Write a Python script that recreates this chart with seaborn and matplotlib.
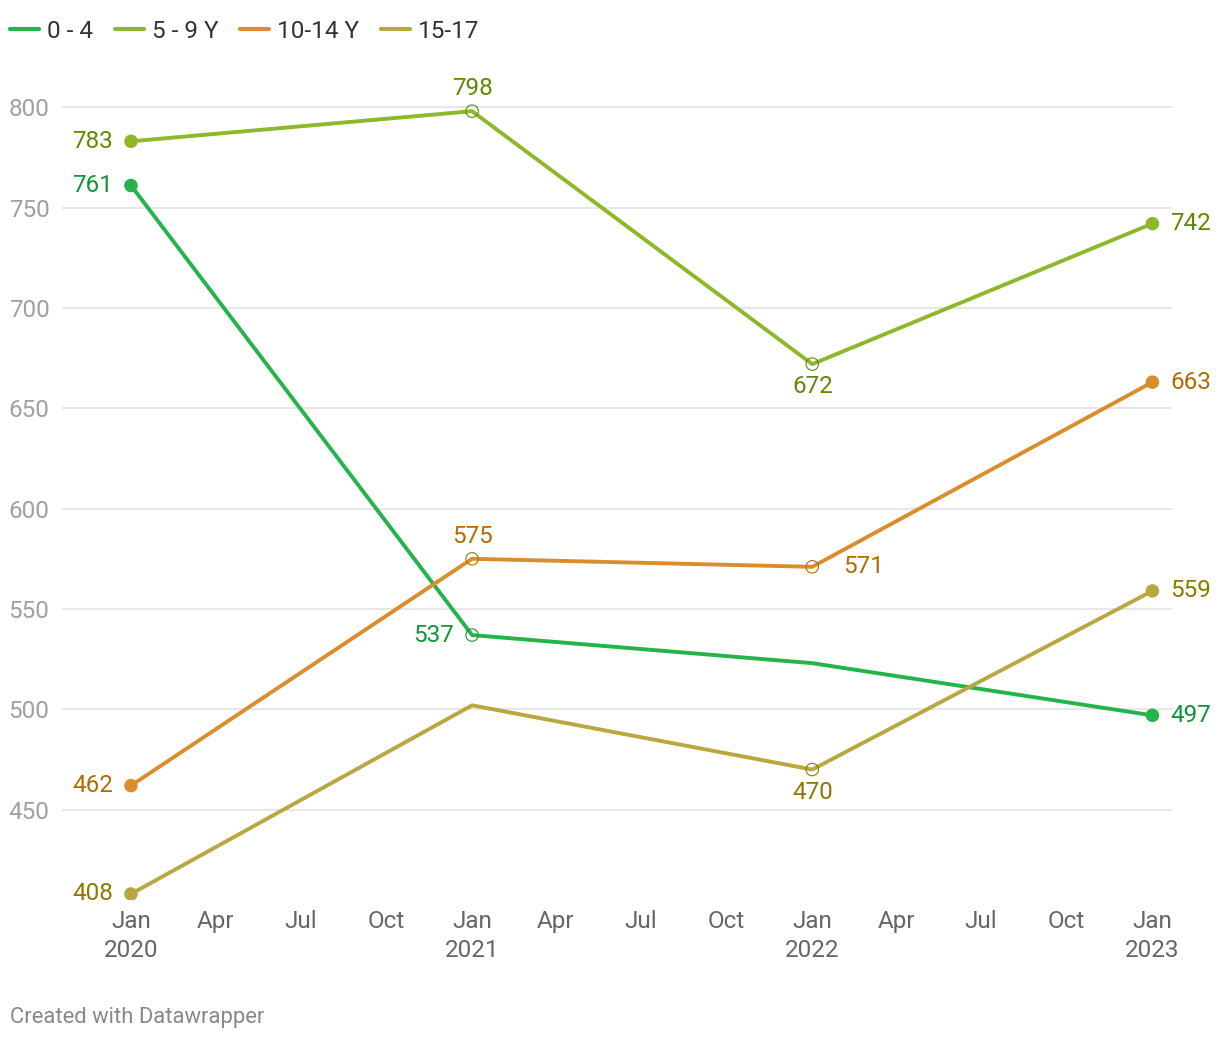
import pandas as pd
import matplotlib
matplotlib.use('Agg')
import matplotlib.pyplot as plt
import seaborn as sns

# data
dates = ['2020-01-01', '2021-01-01', '2022-01-01', '2023-01-01']
groups = ['0 - 4', '5 - 9 Y', '10-14 Y', '15-17']
age_0_4 = [761, 537, 523, 497]
age_5_9 = [783, 798, 672, 742]
age_10_14 = [462, 575, 571, 663]
age_15_17 = [408, 502, 470, 559]

line_colors = ['#25b34b', '#8db829', '#d98e2b', '#b9a73f']
label_colors = ['#0e9639', '#5f8a00', '#b36c00', '#8a7a00']

# which points get a label and where (None = no label/marker)
label_pos = [
    ['left', 'left', None, 'right'],
    ['left', 'above', 'below', 'right'],
    ['left', 'above', 'right2', 'right'],
    ['left', None, 'below', 'right'],
]


def main():
    sns.set_theme(style='white')
    plt.rcParams['font.family'] = ['Roboto', 'DejaVu Sans']

    series = [age_0_4, age_5_9, age_10_14, age_15_17]
    df = pd.DataFrame({
        'date': pd.to_datetime(dates * 4),
        'value': age_0_4 + age_5_9 + age_10_14 + age_15_17,
        'group': [g for g in groups for _ in dates],
    })

    fig = plt.figure(figsize=(12.2, 10.4), dpi=100)
    ax = fig.add_axes([62 / 1220, 0.1346, 1110 / 1220, 0.8106])

    sns.lineplot(data=df, x='date', y='value', hue='group',
                 palette=line_colors, linewidth=2.8, ax=ax, legend=False)

    x = pd.to_datetime(dates)
    offsets = {
        'left': ((-13, 0), 'right', 'center'),
        'right': ((13, 0), 'left', 'center'),
        'right2': ((22, 0), 'left', 'center'),
        'above': ((0, 8), 'center', 'bottom'),
        'below': ((0, -8), 'center', 'top'),
    }
    for vals, pos, lc, tc in zip(series, label_pos, line_colors,
                                 label_colors):
        for i, (d, v, p) in enumerate(zip(x, vals, pos)):
            if p is None:
                continue
            if i in (0, 3):
                ax.scatter([d], [v], s=95, color=lc, zorder=5,
                           edgecolor='none')
            else:
                ax.scatter([d], [v], s=80, facecolor='none',
                           edgecolor=tc, linewidth=0.8, zorder=5)
            off, ha, va = offsets[p]
            ax.annotate(str(v), (d, v), xytext=off,
                        textcoords='offset points', ha=ha, va=va,
                        color=tc, fontsize=17.5)

    ax.set_ylim(405, 825)
    ax.set_xlim(pd.Timestamp('2019-10-19'), pd.Timestamp('2023-01-22'))
    ax.set_yticks([450, 500, 550, 600, 650, 700, 750, 800])
    ax.grid(axis='y', color='#e3e3e3', linewidth=1.2)
    ax.grid(axis='x', visible=False)
    for s in ax.spines.values():
        s.set_visible(False)

    ticks = pd.date_range('2020-01-01', '2023-01-01', freq='QS')
    ax.set_xticks(ticks)
    ax.set_xticklabels([f'Jan\n{t.year}' if t.month == 1 else t.strftime('%b')
                        for t in ticks], linespacing=1.35)
    ax.tick_params(axis='x', colors='#666666', labelsize=17.5, length=0,
                   pad=7)
    ax.tick_params(axis='y', colors='#a0a0a0', labelsize=17.5, length=0,
                   pad=9)
    for lab in ax.get_xticklabels():
        lab.set_verticalalignment('top')
    ax.set_xlabel('')
    ax.set_ylabel('')

    handles = [plt.Line2D([], [], color=c, linewidth=3) for c in line_colors]
    fig.legend(handles, groups, loc='upper left',
               bbox_to_anchor=(10 / 1220, 1 - 20 / 1040), ncol=4,
               frameon=False, fontsize=17.5, handlelength=1.2,
               handletextpad=0.32, columnspacing=0.9,
               labelcolor='#333333', borderaxespad=0, borderpad=0)

    fig.text(10 / 1220, 1 - 1017 / 1040, 'Created with Datawrapper',
             color='#888888', fontsize=15.8, va='center', ha='left')

    fig.savefig('out.png', dpi=100)


if __name__ == '__main__':
    main()
